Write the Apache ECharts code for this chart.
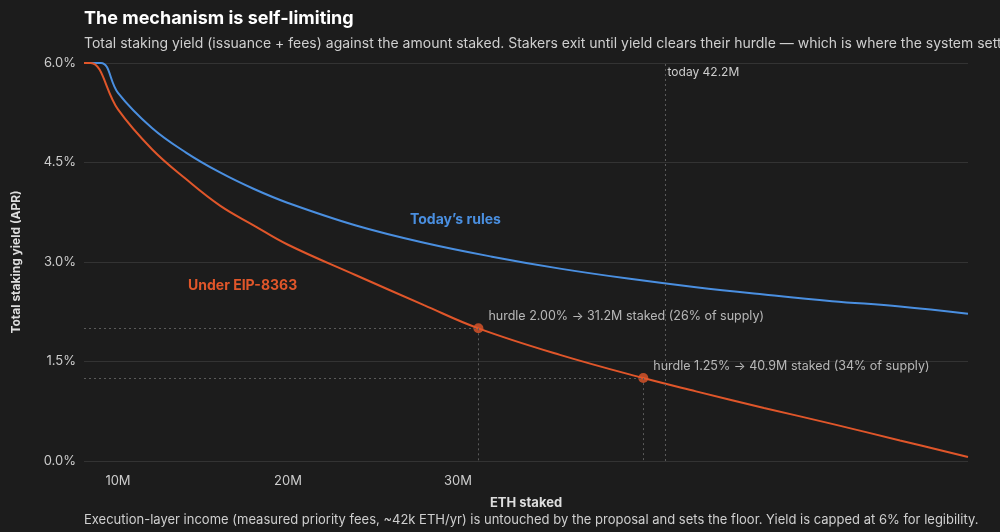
<!DOCTYPE html>
<html><head><meta charset="utf-8">
<script src="https://cdn.jsdelivr.net/npm/echarts@6/dist/echarts.min.js"></script>
<style>html,body{margin:0;background:#1c1c1c;}#c{width:1000px;height:532px;}</style>
</head><body><div id="c"></div>
<script>
const xTicks=[10,20,30];
const todayRules=[[8,6],[9.0,6],[10,5.55],[12,5.02],[14,4.65],[16,4.35],[18,4.1],[20,3.89],[24,3.55],[28,3.29],[32,3.08],[36,2.9],[40,2.75],[44,2.62],[48,2.51],[52,2.41],[56,2.33],[60,2.22]];
const eip=[[8,6],[8.4,6],[10,5.3],[12,4.7],[14,4.25],[16,3.85],[18,3.55],[20,3.26],[24,2.8],[28,2.35],[31.2,2.0],[36,1.6],[40.9,1.25],[44,1.05],[48,0.8],[52,0.56],[56,0.31],[60,0.06]];
const hurdles=[{x:31.2,y:2.0,label:'hurdle 2.00% → 31.2M staked (26% of supply)'},{x:40.9,y:1.25,label:'hurdle 1.25% → 40.9M staked (34% of supply)'}];
const today=42.2;
const ff='Inter, "Noto Sans", sans-serif';
const dot={type:[2,3],color:'#5a5a5a',width:1};
const ml=[];
hurdles.forEach(h=>{
 ml.push([{coord:[8,h.y],lineStyle:dot},{coord:[h.x,h.y]}]);
 ml.push([{coord:[h.x,h.y],lineStyle:dot},{coord:[h.x,0]}]);
});
const chart=echarts.init(document.getElementById('c'));
chart.setOption({
 backgroundColor:'#1c1c1c',animation:false,
 title:[{text:'The mechanism is self-limiting',left:79,top:5,textStyle:{color:'#fff',fontSize:18,fontWeight:'bold',fontFamily:ff}},
  {text:'Total staking yield (issuance + fees) against the amount staked. Stakers exit until yield clears their hurdle — which is where the system settles.',left:79,top:32,textStyle:{color:'#cfcfcf',fontSize:14,fontWeight:'normal',fontFamily:ff}},
  {text:'Execution-layer income (measured priority fees, ~42k ETH/yr) is untouched by the proposal and sets the floor. Yield is capped at 6% for legibility.',left:79,top:509,textStyle:{color:'#cfcfcf',fontSize:13,fontWeight:'normal',fontFamily:ff}}],
 grid:{left:84,right:32,top:63,bottom:71},
 xAxis:{type:'value',min:8,max:60,name:'ETH staked',nameLocation:'middle',nameGap:36,nameTextStyle:{color:'#ddd',fontSize:13,fontWeight:'bold',fontFamily:ff},
  axisLine:{show:false},axisTick:{show:false},splitLine:{show:false},
  axisLabel:{customValues:xTicks,color:'#ccc',fontSize:13,fontFamily:ff,margin:14,formatter:v=>v+'M'}},
 yAxis:{type:'value',min:0,max:6,interval:1.5,name:'Total staking yield (APR)',nameLocation:'middle',nameGap:62,nameTextStyle:{color:'#ddd',fontSize:12,fontWeight:'bold',fontFamily:ff},
  axisLine:{show:false},axisTick:{show:false},splitLine:{lineStyle:{color:'#333'}},
  axisLabel:{color:'#ccc',fontSize:13,fontFamily:ff,formatter:v=>v.toFixed(1)+'%'}},
 series:[
  {type:'line',data:todayRules,showSymbol:false,smooth:0.4,lineStyle:{color:'#4a8fe0',width:2},
   markLine:{silent:true,symbol:'none',data:[{xAxis:today,lineStyle:dot,label:{show:true,position:'end',formatter:'today '+today+'M',color:'#ccc',fontSize:12,fontFamily:ff,offset:[38,20]}}]}},
  {type:'line',data:eip,showSymbol:false,smooth:0.4,lineStyle:{color:'#e0562a',width:2},
   markLine:{silent:true,symbol:'none',label:{show:false},data:ml}},
  {type:'scatter',data:hurdles.map(h=>[h.x,h.y]),symbolSize:10,itemStyle:{color:'#e0562a'},
   label:{show:true,position:'right',distance:5,offset:[0,-12],color:'#ddd',fontSize:12.5,fontFamily:ff,formatter:p=>hurdles[p.dataIndex].label}}
 ],
 graphic:[
  {type:'text',left:410,top:213,style:{text:'Today’s rules',fill:'#4a8fe0',font:'bold 14px '+ff}},
  {type:'text',left:188,top:279,style:{text:'Under EIP-8363',fill:'#e0562a',font:'bold 14px '+ff}}
 ]
});
</script></body></html>
